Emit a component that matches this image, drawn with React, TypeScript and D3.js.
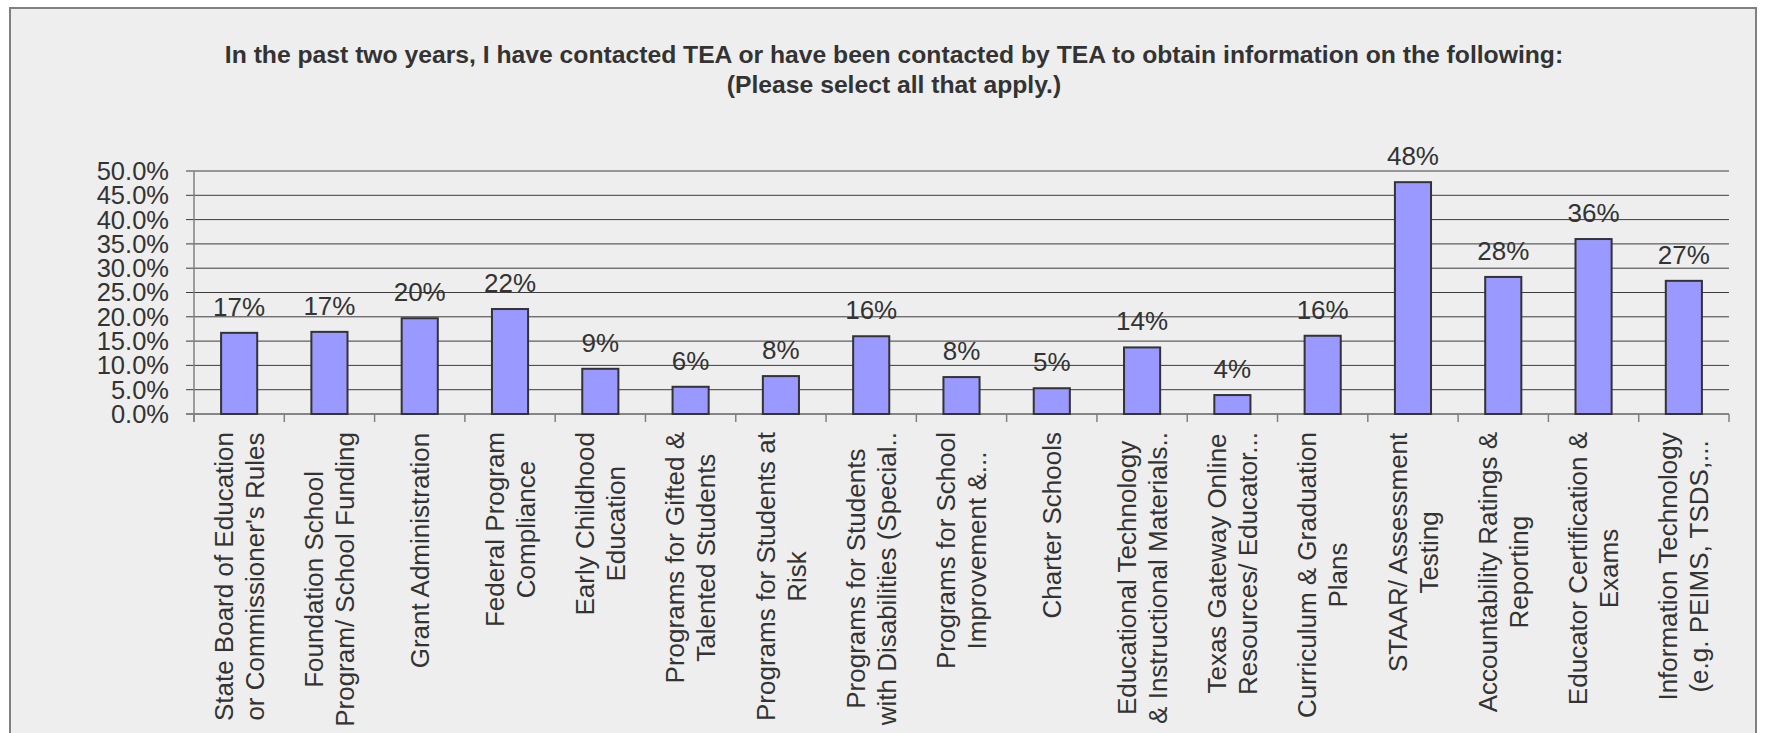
import React, { useEffect } from 'react';
import * as d3 from 'd3';

const titleLines = [
  'In the past two years, I have contacted TEA or have been contacted by TEA to obtain information on the following:',
  '(Please select all that apply.)',
];

const categories = [
  "State Board of Education\nor Commissioner's Rules",
  'Foundation School\nProgram/ School Funding',
  'Grant Administration',
  'Federal Program\nCompliance',
  'Early Childhood\nEducation',
  'Programs for Gifted &\nTalented Students',
  'Programs for Students at\nRisk',
  'Programs for Students\nwith Disabilities (Special..',
  'Programs for School\nImprovement &...',
  'Charter Schools',
  'Educational Technology\n& Instructional Materials..',
  'Texas Gateway Online\nResources/ Educator...',
  'Curriculum & Graduation\nPlans',
  'STAAR/ Assessment\nTesting',
  'Accountability Ratings &\nReporting',
  'Educator Certification &\nExams',
  'Information Technology\n(e.g. PEIMS, TSDS,...',
];

const values = [
  0.167, 0.169, 0.197, 0.216, 0.093, 0.056, 0.078, 0.16, 0.076, 0.053, 0.137,
  0.039, 0.161, 0.477, 0.282, 0.36, 0.274,
];

const yTicks = [0, 0.05, 0.1, 0.15, 0.2, 0.25, 0.3, 0.35, 0.4, 0.45, 0.5];

const W = 1765;
const H = 733;
const FONT = "'Liberation Sans', Arial, Helvetica, sans-serif";
const TEXT = '#333333';

let ctx: CanvasRenderingContext2D | null = null;
function measure(text: string, size: number, weight = 'normal'): number {
  if (!ctx) {
    const c = document.createElement('canvas');
    ctx = c.getContext('2d');
  }
  if (!ctx) return text.length * size * 0.5;
  ctx.font = `${weight} ${size}px ${FONT}`;
  return ctx.measureText(text).width;
}

export default function App() {
  useEffect(() => {
    document.body.style.margin = '0';
    document.body.style.background = '#ffffff';
    document.body.style.overflow = 'hidden';
  }, []);

  const left = 194;
  const right = 1729;
  const base = 414;
  const top = 171;

  const x = d3
    .scaleBand<string>()
    .domain(categories)
    .range([left, right])
    .paddingInner(0.6)
    .paddingOuter(0.3);
  const y = d3.scaleLinear().domain([0, 0.5]).range([base, top]);
  const step = x.step();
  const bw = x.bandwidth();
  const fmtTick = d3.format('.1%');
  const fmtVal = (v: number) => `${Math.round(v * 100)}%`;

  const labelSize = 26;
  const lineGap = 31;
  const labelTop = 432;

  return (
    <svg width={W} height={H} style={{ display: 'block' }} fontFamily={FONT}>
      <rect x={0} y={0} width={W} height={H} fill="#ffffff" />
      <rect x={10} y={8} width={1746} height={H + 20} fill="#eeeeee" stroke="#808080" strokeWidth={2} />

      {titleLines.map((t, i) => (
        <text
          key={i}
          x={894}
          y={63 + i * 30}
          textAnchor="middle"
          fontSize={24.7}
          fontWeight="bold"
          fill={TEXT}
        >
          {t}
        </text>
      ))}

      {/* gridlines */}
      {yTicks.map((t) => (
        <line key={t} x1={left - 8} x2={right} y1={y(t)} y2={y(t)} stroke="#3c3c3c" strokeWidth={1} />
      ))}

      {/* y tick labels */}
      {yTicks.map((t) => (
        <text
          key={'l' + t}
          x={169}
          y={y(t)}
          dy="0.35em"
          textAnchor="end"
          fontSize={25.5}
          fill={TEXT}
        >
          {fmtTick(t)}
        </text>
      ))}

      {/* axes */}
      <line x1={left} x2={left} y1={top} y2={base + 8} stroke="#808080" strokeWidth={1.5} />
      <line x1={left - 8} x2={right} y1={base} y2={base} stroke="#808080" strokeWidth={1.5} />
      {d3.range(categories.length + 1).map((i) => (
        <line
          key={'t' + i}
          x1={left + i * step}
          x2={left + i * step}
          y1={base}
          y2={base + 8}
          stroke="#808080"
          strokeWidth={1.5}
        />
      ))}

      {/* bars */}
      {categories.map((c, i) => (
        <rect
          key={'b' + i}
          x={x(c)}
          y={y(values[i])}
          width={bw}
          height={base - y(values[i])}
          fill="#9999ff"
          stroke="#333333"
          strokeWidth={2}
        />
      ))}

      {/* value labels */}
      {categories.map((c, i) => (
        <text
          key={'v' + i}
          x={(x(c) as number) + bw / 2}
          y={y(values[i]) - 17}
          textAnchor="middle"
          fontSize={26}
          fill={TEXT}
        >
          {fmtVal(values[i])}
        </text>
      ))}

      {/* category labels */}
      {categories.map((c, i) => {
        const lines = c.split('\n');
        const maxLen = Math.max(...lines.map((l) => measure(l, labelSize)));
        const cx = (x(c) as number) + bw / 2;
        const n = lines.length;
        return (
          <g key={'c' + i} transform={`translate(${cx},${labelTop}) rotate(-90)`}>
            {lines.map((l, j) => (
              <text
                key={j}
                x={-maxLen / 2}
                y={(j - (n - 1) / 2) * lineGap}
                dy="0.35em"
                textAnchor="middle"
                fontSize={labelSize}
                fill={TEXT}
              >
                {l}
              </text>
            ))}
          </g>
        );
      })}
    </svg>
  );
}
